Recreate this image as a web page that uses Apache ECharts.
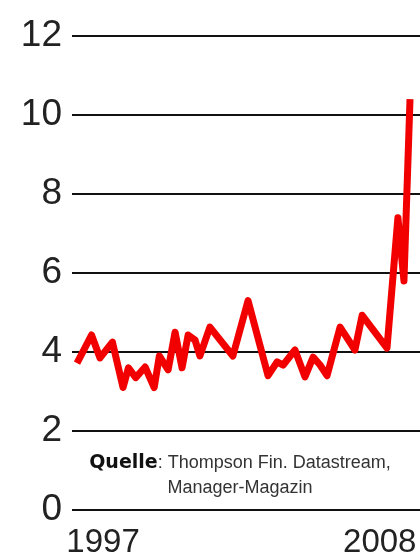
<!DOCTYPE html>
<html>
<head>
    <meta charset="utf-8">
    <title>ECharts</title>
    <script src="https://cdn.jsdelivr.net/npm/echarts@6/dist/echarts.min.js"></script>
    <style>
        html, body { margin: 0; padding: 0; background: #fff; }
    </style>
</head>
<body>
<div id="main" style="width: 420px;height:560px;"></div>
<script type="text/javascript">
    // Zeitpunkte (Jahre) und Werte der Kurve
    var years = [1997.00, 1997.48, 1997.76, 1998.17, 1998.52, 1998.70, 1998.94, 1999.25, 1999.55, 1999.72,
                 2000.01, 2000.24, 2000.47, 2000.67, 2000.90, 2001.06, 2001.39, 2002.15, 2002.65, 2003.31,
                 2003.61, 2003.81, 2004.20, 2004.53, 2004.80, 2005.03, 2005.26, 2005.69, 2006.18, 2006.42,
                 2007.24, 2007.60, 2007.80, 2008.00];
    var values = [3.72, 4.43, 3.85, 4.25, 3.1, 3.6, 3.35, 3.62, 3.1, 3.9,
                  3.55, 4.5, 3.6, 4.43, 4.3, 3.9, 4.63, 3.9, 5.3, 3.4,
                  3.75, 3.67, 4.05, 3.37, 3.87, 3.67, 3.4, 4.63, 4.05, 4.93,
                  4.1, 7.4, 5.8, 10.4];
    // Achsenbeschriftung unten
    var xLabels = ['1997', '2008'];
    var xLabelPos = [1997.86, 2007.0];

    var chartDom = document.getElementById('main');
    var myChart = echarts.init(chartDom);

    var points = years.map(function (y, i) {
        return [y, values[i]];
    });

    var option = {
        backgroundColor: '#fff',
        animation: false,
        grid: {
            left: 72,
            right: 0,
            top: 36,
            bottom: 50
        },
        xAxis: {
            type: 'value',
            min: 1996.835,
            max: 2008.33,
            axisLine: { show: false },
            axisTick: { show: false },
            splitLine: { show: false },
            axisLabel: {
                show: true,
                customValues: xLabelPos,
                showMinLabel: true,
                showMaxLabel: true,
                hideOverlap: false,
                formatter: function (v) {
                    var best = 0;
                    for (var i = 1; i < xLabelPos.length; i++) {
                        if (Math.abs(xLabelPos[i] - v) < Math.abs(xLabelPos[best] - v)) best = i;
                    }
                    return xLabels[best];
                },
                color: '#222',
                fontFamily: 'Liberation Sans',
                fontSize: 33,
                margin: 16
            }
        },
        yAxis: {
            type: 'value',
            min: 0,
            max: 12,
            interval: 2,
            axisLine: { show: false },
            axisTick: { show: false },
            axisLabel: {
                color: '#222',
                fontFamily: 'Liberation Sans',
                fontSize: 37,
                margin: 10
            },
            splitLine: {
                lineStyle: { color: '#111', width: 2 }
            }
        },
        graphic: [
            {
                type: 'text',
                x: 240,
                y: 454,
                style: {
                    text: '{b|Quelle}: Thompson Fin. Datastream,',
                    font: '18px "Liberation Sans"',
                    fill: '#333',
                    align: 'center',
                    rich: {
                        b: { fontWeight: 900, fontSize: 19, fill: '#111',
                             fontFamily: 'DejaVu Sans' }
                    }
                }
            },
            {
                type: 'text',
                x: 240,
                y: 479,
                style: {
                    text: 'Manager-Magazin',
                    font: '18px "Liberation Sans"',
                    fill: '#333',
                    align: 'center'
                }
            }
        ],
        series: [
            {
                type: 'line',
                data: points,
                symbol: 'none',
                lineStyle: {
                    color: '#f20000',
                    width: 7,
                    join: 'round'
                }
            }
        ]
    };

    myChart.setOption(option);
</script>
</body>
</html>
